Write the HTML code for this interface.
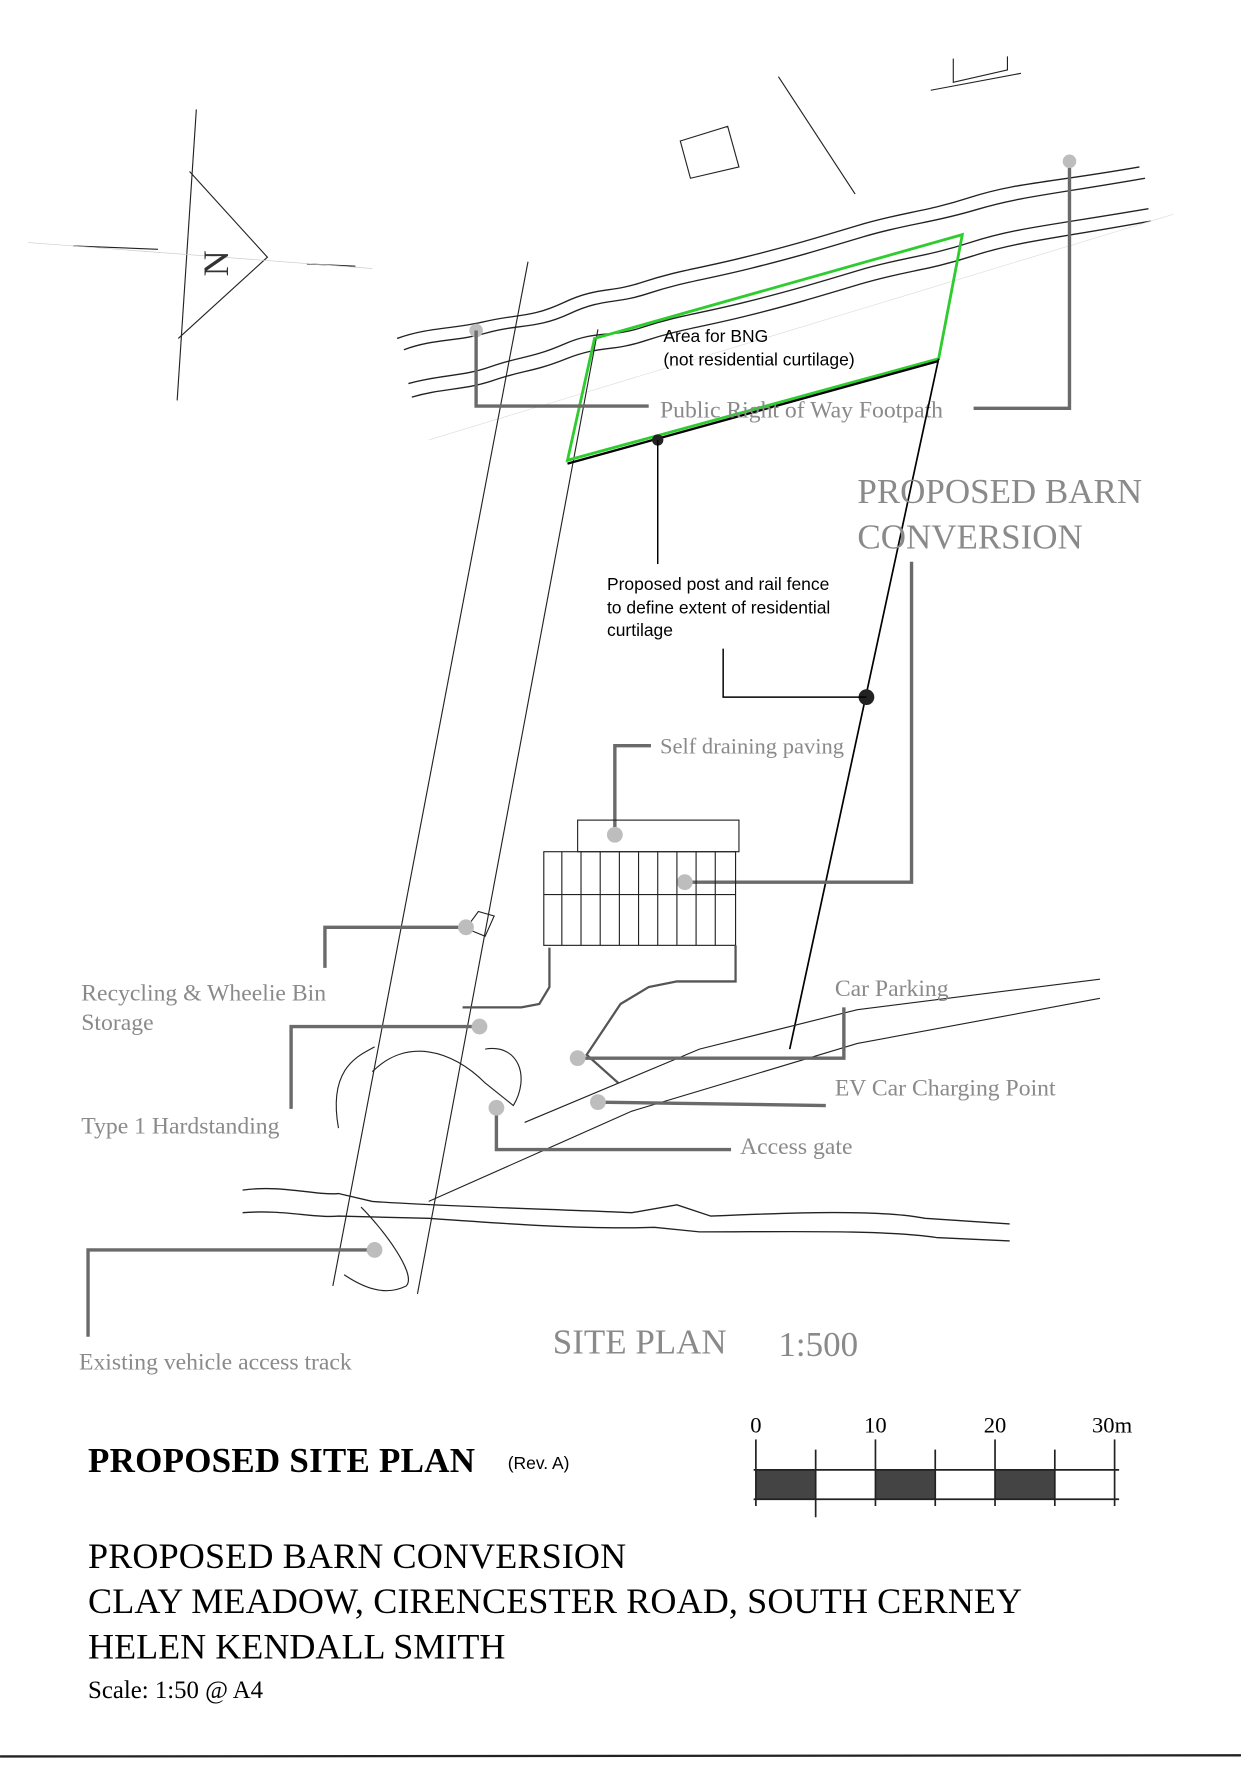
<!DOCTYPE html>
<html><head><meta charset="utf-8"><style>
html,body{margin:0;padding:0;background:#fff}
svg{display:block}
.g{fill:#8a8a8a;font-family:"Liberation Serif",serif}
.s{fill:#000;font-family:"Liberation Sans",sans-serif;font-size:15.5px}
.k{fill:#000;font-family:"Liberation Serif",serif}
.ld{stroke:#6a6a6a;stroke-width:3;fill:none}
.dot{fill:#bdbdbd}
.th{stroke:#222;stroke-width:1;fill:none}
.w{stroke:#222;stroke-width:1.2;fill:none}
</style></head><body>
<svg width="1241" height="1779" viewBox="0 0 1100 1577" xmlns="http://www.w3.org/2000/svg">
<rect width="1100" height="1577" fill="#fff"/>
<line x1="174" y1="97" x2="157" y2="355" class="th"/>
<polyline points="168,152 237,228 158,300" class="th"/>
<line x1="65" y1="218" x2="140" y2="221" class="th"/>
<line x1="272" y1="234" x2="315" y2="236" class="th"/>
<line x1="25" y1="215" x2="330" y2="238" stroke="#ccc" stroke-width="0.6"/>
<text x="173" y="240" font-family="Liberation Serif,serif" font-size="32" fill="#333" transform="rotate(-90 190 228)">N</text>
<line x1="690" y1="68" x2="758" y2="172" class="th"/>
<polygon points="603,125 645,112 655,148 612,158" class="th"/>
<polyline points="845,52 845,73 893,62 893,50" class="th"/>
<line x1="825" y1="80" x2="905" y2="65" class="th"/>
<path class="w" d="M352,300 C380,290 400,292 430,285 S470,282 500,268 S540,260 570,250 S620,238 660,228 S720,212 760,200 S820,188 860,175 S930,162 1010,148"/>
<path class="w" d="M358,310 C385,300 405,303 432,295 S475,292 505,278 S545,270 575,260 S625,248 665,238 S725,222 765,210 S825,198 865,186 S935,172 1015,158"/>
<path class="w" d="M362,340 C390,332 410,334 435,325 S470,318 500,305 S540,300 570,290 S620,278 660,268 S720,252 760,240 S820,228 860,215 S930,200 1018,185"/>
<path class="w" d="M365,352 C392,344 412,346 438,337 S472,330 502,318 S542,312 572,302 S622,290 662,280 S722,264 762,252 S822,240 862,227 S932,212 1020,196"/>
<line x1="380" y1="390" x2="1040" y2="190" stroke="#ddd" stroke-width="0.6"/>
<line x1="468" y1="232" x2="295" y2="1140" class="th"/>
<line x1="530" y1="292" x2="370" y2="1147" class="th"/>
<polygon points="527,300 853,208 832,318 503,408" fill="none" stroke="#2ecc2e" stroke-width="2.5"/>
<line x1="503" y1="411" x2="832" y2="320" stroke="#000" stroke-width="2"/>
<circle cx="583" cy="390" r="5" fill="#222"/>
<line x1="583" y1="390" x2="583" y2="500" stroke="#000" stroke-width="1.3"/>
<text class="s" x="588" y="303">Area for BNG</text>
<text class="s" x="588" y="324">(not residential curtilage)</text>
<circle cx="422" cy="293" r="6" class="dot"/>
<polyline class="ld" points="422,293 422,360 575,360"/>
<polyline class="ld" points="863,362 948,362 948,143"/>
<circle cx="948" cy="143" r="6" class="dot"/>
<text class="g" x="585" y="370" font-size="21">Public Right of Way Footpath</text>
<line x1="832" y1="318" x2="700" y2="930" stroke="#000" stroke-width="1.5"/>
<circle cx="768" cy="618" r="7" fill="#222"/>
<polyline points="641,575 641,618 768,618" fill="none" stroke="#000" stroke-width="1.3"/>
<text class="g" x="760" y="446" font-size="31">PROPOSED BARN</text>
<text class="g" x="760" y="486" font-size="31">CONVERSION</text>
<polyline class="ld" points="808,498 808,782 607,782"/>
<circle cx="607" cy="782" r="7" class="dot"/>
<text class="s" x="538" y="523">Proposed post and rail fence</text>
<text class="s" x="538" y="544">to define extent of residential</text>
<text class="s" x="538" y="564">curtilage</text>
<text class="g" x="585" y="668" font-size="20">Self draining paving</text>
<polyline class="ld" points="577,661 545,661 545,740"/>
<circle cx="545" cy="740" r="7" class="dot"/>
<rect x="512" y="727" width="143" height="28" class="th"/>
<rect x="482" y="755" width="170" height="83" class="th" stroke-width="1.5"/>
<line x1="482" y1="793" x2="652" y2="793" class="th"/>
<g class="th">
<line x1="498" y1="755" x2="498" y2="838"/><line x1="515" y1="755" x2="515" y2="838"/><line x1="532" y1="755" x2="532" y2="838"/><line x1="549" y1="755" x2="549" y2="838"/><line x1="566" y1="755" x2="566" y2="838"/><line x1="583" y1="755" x2="583" y2="838"/><line x1="600" y1="755" x2="600" y2="838"/><line x1="617" y1="755" x2="617" y2="838"/><line x1="634" y1="755" x2="634" y2="838"/>
</g>
<polyline points="487,840 487,875 478,890 462,893 410,893" fill="none" stroke="#555" stroke-width="2"/>
<polyline points="652,838 652,870 600,870 575,875 550,890 520,935 548,960" fill="none" stroke="#555" stroke-width="2"/>
<polygon points="413,823 424,808 438,812 430,830" class="th"/>
<path class="th" d="M465,995 L620,930 L760,895 L975,868"/>
<path class="th" d="M380,1065 L560,985 L760,925 L975,885"/>
<path class="th" d="M330,950 C360,920 400,930 430,960 L455,980 C470,955 460,925 430,930"/>
<path class="th" d="M332,928 C320,935 290,945 300,1000"/>
<path class="th" d="M320,1070 C340,1090 370,1130 360,1140 C340,1150 320,1140 305,1130"/>
<path class="w" d="M215,1055 C250,1050 280,1060 300,1058 L330,1065 C400,1070 500,1072 560,1075 L600,1068 L630,1078 C700,1075 780,1072 820,1080 L895,1085"/>
<path class="w" d="M215,1075 C250,1072 280,1080 300,1078 L380,1080 C450,1085 520,1090 580,1088 L620,1092 C700,1092 780,1090 830,1097 L895,1100"/>
<text class="g" x="72" y="887" font-size="21">Recycling &amp; Wheelie Bin</text>
<text class="g" x="72" y="913" font-size="21">Storage</text>
<polyline class="ld" points="288,858 288,822 413,822"/>
<circle cx="413" cy="822" r="7" class="dot"/>
<text class="g" x="72" y="1005" font-size="21">Type 1 Hardstanding</text>
<polyline class="ld" points="258,983 258,910 425,910"/>
<circle cx="425" cy="910" r="7" class="dot"/>
<polyline class="ld" points="78,1185 78,1108 332,1108"/>
<circle cx="332" cy="1108" r="7" class="dot"/>
<text class="g" x="70" y="1214" font-size="21">Existing vehicle access track</text>
<text class="g" x="740" y="883" font-size="21">Car Parking</text>
<polyline class="ld" points="512,938 748,938 748,893"/>
<circle cx="512" cy="938" r="7" class="dot"/>
<text class="g" x="740" y="971" font-size="21">EV Car Charging Point</text>
<polyline class="ld" points="530,977 732,980"/>
<circle cx="530" cy="977" r="7" class="dot"/>
<text class="g" x="656" y="1023" font-size="21">Access gate</text>
<polyline class="ld" points="440,982 440,1019 648,1019"/>
<circle cx="440" cy="982" r="7" class="dot"/>
<text class="g" x="490" y="1200" font-size="31">SITE PLAN</text>
<text class="g" x="690" y="1202" font-size="31">1:500</text>
<g font-family="Liberation Serif,serif" font-size="20" fill="#000">
<text x="665" y="1270">0</text><text x="766" y="1270">10</text><text x="872" y="1270">20</text><text x="968" y="1270">30m</text>
</g>
<rect x="670" y="1303" width="53" height="26" fill="#444"/>
<rect x="776" y="1303" width="53" height="26" fill="#444"/>
<rect x="882" y="1303" width="53" height="26" fill="#444"/>
<g stroke="#222" stroke-width="1.5">
<line x1="668" y1="1303" x2="992" y2="1303"/><line x1="668" y1="1329" x2="992" y2="1329"/>
<line x1="670" y1="1276" x2="670" y2="1335"/><line x1="723" y1="1285" x2="723" y2="1345"/><line x1="776" y1="1276" x2="776" y2="1335"/><line x1="829" y1="1285" x2="829" y2="1335"/><line x1="882" y1="1276" x2="882" y2="1335"/><line x1="935" y1="1285" x2="935" y2="1335"/><line x1="988" y1="1276" x2="988" y2="1335"/>
</g>
<text class="k" x="78" y="1305" font-size="31" font-weight="bold" textLength="343">PROPOSED SITE PLAN</text>
<text class="s" x="450" y="1302">(Rev. A)</text>
<text class="k" x="78" y="1390" font-size="32" textLength="477">PROPOSED BARN CONVERSION</text>
<text class="k" x="78" y="1430" font-size="32" textLength="828">CLAY MEADOW, CIRENCESTER ROAD, SOUTH CERNEY</text>
<text class="k" x="78" y="1470" font-size="32" textLength="370">HELEN KENDALL SMITH</text>
<text class="k" x="78" y="1505" font-size="22">Scale: 1:50 @ A4</text>
<line x1="0" y1="1557" x2="1100" y2="1556" stroke="#222" stroke-width="2"/>
</svg>
</body></html>
